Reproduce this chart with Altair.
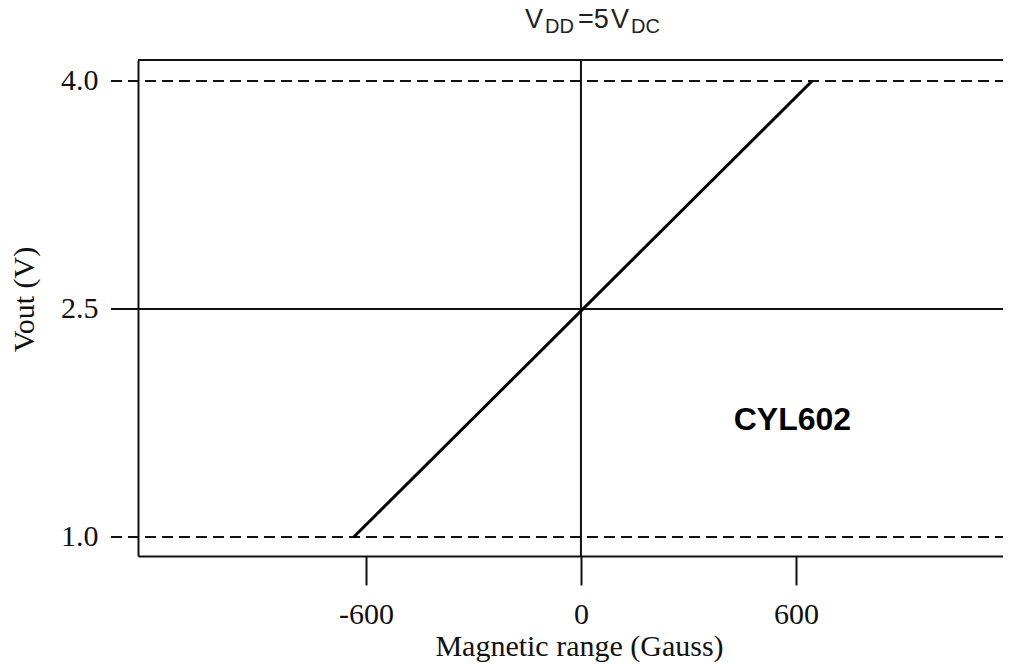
import altair as alt
import pandas as pd

# ---- data ----
gauss = [-634, 645]          # magnetic field (G) at the ends of the transfer line
vout = [1.0, 4.0]            # output voltage (V) at those ends
dashed_levels = [1.0, 4.0]   # saturation limits
solid_levels = [2.5]         # null (zero-field) output
zero_field = [0]
x_ticks = [-600, 0, 600]
y_ticks = [1.0, 2.5, 4.0]
label_text = ["CYL602"]
label_x = [590]
label_y = [1.77]

W, H = 865, 496
X_DOM = [-1236, 1177.7]
Y_DOM = [0.875, 4.138]
INK = "#111111"
SERIF = "Liberation Serif"
SANS = "Liberation Sans"

xs = alt.Scale(domain=X_DOM, nice=False, zero=False)
ys = alt.Scale(domain=Y_DOM, nice=False, zero=False)

line_df = pd.DataFrame({"g": gauss, "v": vout})
dash_df = pd.DataFrame({"lvl": dashed_levels})
solid_df = pd.DataFrame({"lvl": solid_levels})
zero_df = pd.DataFrame({"g": zero_field})
lab_df = pd.DataFrame({"t": label_text, "g": label_x, "v": label_y})

x_axis = alt.Axis(
    values=x_ticks, title="Magnetic range (Gauss)", grid=False,
    labelExpr="'' + datum.value",
    domainColor=INK, domainWidth=2, tickColor=INK, tickWidth=2, tickSize=29,
    labelFont=SERIF, labelFontSize=30, labelColor=INK, labelPadding=14,
    labelBaseline="top", labelFlush=False,
    titleFont=SERIF, titleFontSize=30, titleFontWeight="normal", titleColor=INK,
    titleX=441, titleY=99, titleBaseline="alphabetic", titleAlign="center",
)
y_axis = alt.Axis(
    values=y_ticks, format=".1f", title="Vout (V)", grid=False,
    domainColor=INK, domainWidth=2, ticks=False, tickSize=0,
    labelFont=SERIF, labelFontSize=30, labelColor=INK, labelPadding=40,
    labelFlush=False,
    titleFont=SERIF, titleFontSize=30, titleFontWeight="normal", titleColor=INK,
    titleX=-114, titleY=239, titleBaseline="middle", titleAlign="center", titleAngle=-90,
)

transfer = alt.Chart(line_df).mark_line(color="black", strokeWidth=3).encode(
    x=alt.X("g:Q", scale=xs, axis=x_axis),
    y=alt.Y("v:Q", scale=ys, axis=y_axis),
)

dashed = alt.Chart(dash_df).mark_rule(color=INK, strokeWidth=2, strokeDash=[11, 6]).encode(
    y=alt.Y("lvl:Q", scale=ys), x=alt.value(-27), x2=alt.value(W)
)
solid = alt.Chart(solid_df).mark_rule(color=INK, strokeWidth=2).encode(
    y=alt.Y("lvl:Q", scale=ys), x=alt.value(-27), x2=alt.value(W)
)
vzero = alt.Chart(zero_df).mark_rule(color=INK, strokeWidth=2).encode(
    x=alt.X("g:Q", scale=xs), y=alt.value(0), y2=alt.value(H)
)
top_border = alt.Chart(zero_df).mark_rule(color=INK, strokeWidth=2).encode(
    y=alt.value(0), x=alt.value(0), x2=alt.value(W)
)

label = alt.Chart(lab_df).mark_text(
    font=SANS, fontSize=32, fontWeight="bold", color="black", align="center", baseline="middle"
).encode(x=alt.X("g:Q", scale=xs), y=alt.Y("v:Q", scale=ys), text="t:N")

title_df = pd.DataFrame({"a": [0]})
def piece(txt, xpx, ypx, size):
    return alt.Chart(title_df).mark_text(
        text=txt, font=SANS, fontSize=size, color="#222222",
        align="left", baseline="alphabetic"
    ).encode(x=alt.value(xpx), y=alt.value(ypx))

title_layers = [
    piece("V", 387, -32, 27),
    piece("DD", 407, -27, 20),
    piece("=5", 440, -32, 27),
    piece("V", 473, -32, 27),
    piece("DC", 493, -27, 20),
]

chart = alt.layer(
    dashed, solid, vzero, top_border, transfer, label, *title_layers
).properties(
    width=W, height=H,
    autosize=alt.AutoSizeParams(type="none"),
    padding={"left": 130, "top": 52, "right": 0, "bottom": 106},
).configure_view(stroke=None).configure(background="white")

chart.save("out.html", embed_options={"renderer": "svg", "actions": False})
